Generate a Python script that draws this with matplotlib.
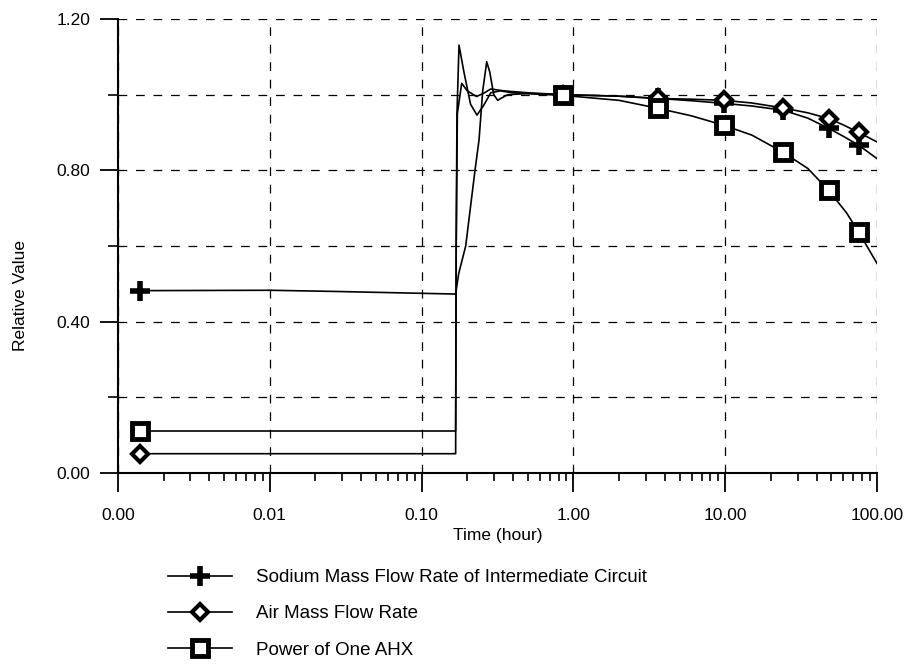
import numpy as np
import matplotlib.pyplot as plt
from matplotlib.ticker import FixedLocator, FuncFormatter, NullFormatter, LogLocator

plt.rcParams['font.family'] = ['Liberation Sans', 'DejaVu Sans']

# time in hours (log axis)
t_na = [0.0014, 0.01, 0.026, 0.1676, 0.1755, 0.1952, 0.2248, 0.2389, 0.2527, 0.2685,
        0.2811, 0.2987, 0.3174, 0.3323, 0.3696, 0.5, 0.86, 2.0, 3.6, 6.0, 9.8, 15.0,
        24.0, 35.0, 48.0, 60.0, 76.0, 100.0]
sodium = [0.482, 0.483, 0.480, 0.473, 0.527, 0.600, 0.800, 0.880, 1.010, 1.087,
          1.060, 1.000, 0.985, 0.990, 1.000, 1.003, 1.000, 0.996, 0.990, 0.984, 0.977, 0.970,
          0.959, 0.938, 0.911, 0.890, 0.866, 0.831]

t_air = [0.0014, 0.1676, 0.1690, 0.1720, 0.1837, 0.2000, 0.2300, 0.2600, 0.2854, 0.3500,
         0.5, 0.86, 2.0, 3.6, 6.0, 9.8, 15.0, 24.0, 35.0, 48.0, 60.0, 76.0, 100.0]
air = [0.051, 0.051, 0.600, 0.950, 1.030, 1.010, 0.995, 1.005, 1.015, 1.010,
       1.005, 1.000, 0.996, 0.990, 0.988, 0.985, 0.978, 0.965, 0.952, 0.937, 0.920, 0.900, 0.875]

t_pow = [0.0014, 0.1676, 0.1690, 0.1710, 0.1764, 0.1900, 0.2100, 0.2315, 0.2550, 0.2854,
         0.3300, 0.4000, 0.86, 2.0, 3.6, 6.0, 9.8, 15.0, 24.0, 35.0, 48.0, 62.9, 76.0, 100.0]
power = [0.111, 0.111, 0.600, 0.950, 1.131, 1.060, 0.975, 0.946, 0.970, 1.005,
         1.010, 1.005, 0.998, 0.985, 0.964, 0.944, 0.919, 0.893, 0.848, 0.805, 0.747, 0.688, 0.636, 0.554]

# times where symbols were printed
t_marks = [0.0014, 0.86, 3.6, 9.8, 24.0, 48.0, 76.0]

labels = ['Sodium Mass Flow Rate of Intermediate Circuit', 'Air Mass Flow Rate', 'Power of One AHX']

fig = plt.figure(figsize=(9.08, 6.69), dpi=100)
ax = fig.add_axes([118/908, 1 - 473/669, (877 - 118)/908, (473 - 19)/669])

def marks(t):
    return [i for i, v in enumerate(t) if v in t_marks]

l1, = ax.plot(t_na, sodium, color='black', lw=1.2, marker='+', ms=14, mew=4,
              markevery=marks(t_na), label=labels[0])
l2, = ax.plot(t_air, air, color='black', lw=1.2, marker='D', ms=8, mew=3, mfc='white',
              markevery=marks(t_air), label=labels[1])
l3, = ax.plot(t_pow, power, color='black', lw=1.2, marker='s', ms=11, mew=3.5, mfc='white',
              markevery=marks(t_pow), label=labels[2])

ax.set_xscale('log')
ax.set_xlim(0.001, 100)
ax.set_ylim(0, 1.2)

ax.xaxis.set_major_locator(FixedLocator([0.001, 0.01, 0.1, 1, 10, 100]))
ax.xaxis.set_major_formatter(FuncFormatter(lambda v, p: '%.2f' % v))
ax.xaxis.set_minor_locator(LogLocator(base=10, subs=np.arange(2, 10)))
ax.xaxis.set_minor_formatter(NullFormatter())
ax.yaxis.set_major_locator(FixedLocator([0, 0.4, 0.8, 1.2]))
ax.yaxis.set_minor_locator(FixedLocator([0.2, 0.6, 1.0]))
ax.yaxis.set_major_formatter(FuncFormatter(lambda v, p: '%.2f' % v))

ax.grid(True, which='major', axis='x', color='black', lw=0.9, ls=(0, (7, 7)))
ax.grid(True, which='both', axis='y', color='black', lw=0.9, ls=(0, (7, 7)))

ax.spines['top'].set_visible(False)
ax.spines['right'].set_visible(False)
ax.spines['left'].set_linewidth(1.5)
ax.spines['bottom'].set_linewidth(1.5)

ax.tick_params(axis='x', which='major', direction='out', length=14, width=1.3, pad=11, labelsize=12.5)
ax.tick_params(axis='x', which='minor', direction='out', length=6, width=1.2)
ax.tick_params(axis='y', which='major', direction='out', length=13, width=1.3, pad=7, labelsize=12.5)
ax.tick_params(axis='y', which='minor', direction='out', length=7, width=1.2)

ax.set_xlabel('Time (hour)', fontsize=12.5, labelpad=4)
ax.set_ylabel('Relative Value', fontsize=12.5)
ax.yaxis.set_label_coords(-0.119, 0.392)

fig.legend(handles=[l1, l2, l3], loc='upper left', bbox_to_anchor=(168/908, 1 - 569/669),
           frameon=False, fontsize=13.5, handlelength=3.4, handletextpad=1.3,
           labelspacing=1.02, borderpad=0, borderaxespad=0)

fig.savefig('out.png', dpi=100)
